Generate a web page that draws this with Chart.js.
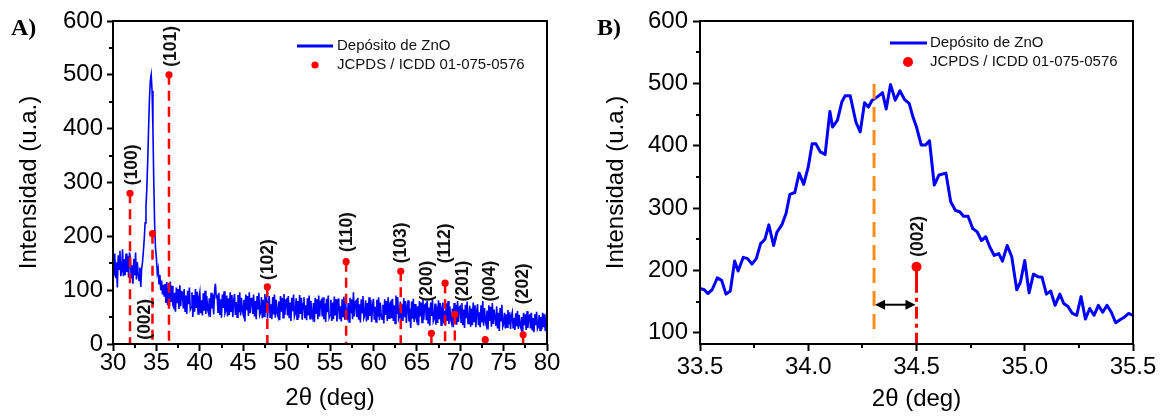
<!DOCTYPE html>
<html><head><meta charset="utf-8">
<script src="https://cdn.jsdelivr.net/npm/chart.js@4.4.1/dist/chart.umd.min.js"></script>
<style>
html,body{margin:0;padding:0;background:#fff;}
#wrap{position:relative;width:1170px;height:417px;overflow:hidden;}
#cA{position:absolute;left:0;top:0;}
#cB{position:absolute;left:590px;top:0;}
</style></head><body>
<div id="wrap"><canvas id="cA" width="590" height="417"></canvas><canvas id="cB" width="580" height="417"></canvas></div>
<script>
// ---------- Panel A: full scan (2θ from 30° in 0.1° steps) ----------
const scanStart = 30, scanStep = 0.1;
const scanIntensity = [
161,127,168,122,152,105,165,139,173,126,
136,176,126,158,128,168,134,163,123,170,
160,122,146,112,158,128,170,120,152,130,
118,142,106,140,152,172,195,225,255,290,
340,400,455,490,500,470,400,300,220,178,
160,132,140,112,128,100,118,92,110,88,
112,76,115,72,104,70,116,78,108,72,
68,95,60,105,76,102,65,109,70,97,
96,66,102,61,90,56,99,74,105,64,
68,96,50,91,60,102,67,97,56,86,
96,57,81,53,94,62,99,56,89,65,
58,85,50,95,66,92,55,99,112,87,
89,59,95,54,83,49,92,67,98,57,
62,90,51,85,54,96,61,91,50,80,
93,54,78,50,91,59,96,53,86,62,
55,82,42,92,63,89,52,96,57,84,
86,56,92,51,80,46,89,64,95,54,
59,87,48,82,51,93,58,88,47,77,
89,50,74,46,87,55,92,49,82,58,
52,79,44,89,60,86,49,93,54,81,
83,53,89,48,77,43,86,61,92,51,
57,85,46,80,49,91,56,86,45,75,
87,48,72,44,85,53,90,47,80,56,
49,76,41,86,57,83,46,90,51,78,
81,51,87,46,75,41,84,59,90,49,
54,82,43,77,46,88,53,83,42,72,
85,46,70,42,83,51,88,45,78,54,
49,76,41,86,57,83,46,96,51,78,
80,50,86,45,74,40,83,58,89,48,
53,81,42,76,45,87,52,82,41,71,
84,45,69,41,82,50,87,44,77,53,
46,73,38,83,54,80,43,87,48,75,
78,48,84,43,72,38,90,56,87,46,
51,79,40,74,43,85,50,80,39,69,
81,42,66,30,79,47,84,41,74,50,
43,70,35,80,51,77,40,84,45,72,
74,44,80,39,68,34,77,52,83,42,
47,75,36,70,39,81,46,76,35,65,
77,38,62,34,75,43,80,37,70,46,
39,66,31,76,47,73,36,80,41,68,
70,40,76,35,64,30,73,48,79,38,
43,71,32,66,35,77,42,72,31,61,
74,35,59,31,72,40,80,34,67,43,
35,62,27,72,43,69,32,76,37,64,
64,34,70,29,58,24,67,42,73,32,
37,58,29,55,31,63,37,59,28,52,
59,29,48,26,57,33,61,28,54,35,
29,50,23,58,35,55,26,61,30,51,
53,29,58,25,48,22,55,35,60,28,
32,54,25,50,27,58,31,55,24,47,
38];

// JCPDS / ICDD 01-075-0576 reference reflections
const hklNames     = ['(100)','(002)','(101)','(102)','(110)','(103)','(200)','(112)','(201)','(004)','(202)'];
const hklAngle     = [31.96, 34.55, 36.45, 47.78, 56.86, 63.15, 66.68, 68.26, 69.38, 72.88, 77.25];
const hklIntensity = [280, 205, 500, 106, 153, 135, 20, 113, 55, 8, 17];
// where each (hkl) tag starts (angle, intensity)
const hklTagAngle  = [32.25, 33.69, 36.68, 47.9, 57.0, 63.2, 66.2, 68.3, 70.36, 73.4, 77.27];
const hklTagBase   = [295, 8, 515, 119, 171, 150, 79, 150, 79, 79, 74];

// ---------- Panel B: zoom on the (002) peak ----------
const zoomAngle = [33.50,33.52,33.536,33.556,33.58,33.60,33.62,33.64,33.66,33.676,
33.70,33.72,33.74,33.76,33.78,33.80,33.818,33.84,33.855,33.878,
33.898,33.915,33.938,33.958,33.979,34.00,34.018,34.035,34.056,34.078,
34.10,34.112,34.135,34.155,34.17,34.194,34.22,34.24,34.26,34.278,
34.295,34.318,34.343,34.36,34.38,34.402,34.423,34.445,34.466,34.483,
34.50,34.522,34.542,34.56,34.582,34.604,34.636,34.658,34.68,34.70,
34.717,34.738,34.76,34.78,34.80,34.82,34.838,34.859,34.88,34.897,
34.919,34.94,34.963,34.98,35.00,35.02,35.04,35.06,35.08,35.10,
35.12,35.14,35.162,35.18,35.20,35.22,35.24,35.26,35.28,35.30,
35.32,35.34,35.36,35.38,35.40,35.42,35.44,35.46,35.48,35.50];
const zoomIntensity = [171,169,163,169,188,184,162,167,215,199,
221,219,210,219,243,250,273,240,261,273,
292,322,325,356,338,366,403,403,390,386,
455,430,441,470,480,480,438,422,469,462,
473,478,485,459,498,473,488,474,468,447,
430,401,401,408,337,353,356,310,296,294,
287,287,267,262,248,254,238,224,227,215,
240,222,169,181,216,164,194,190,189,162,
167,144,162,147,142,131,128,158,122,139,
128,144,133,144,133,116,121,125,131,128];
const peakAngle = 34.304, peakLineTop = 499, peakLineBottom = 93;   // measured peak position
const refAngle = 34.5, refIntensity = 206;                           // JCPDS (002)
const refTagAngle = 34.51, refTagBase = 222;
const shiftArrowLevel = 145;

const legendLabels = ['Depósito de ZnO', 'JCPDS / ICDD 01-075-0576'];

// ---------- drawing helpers ----------
const SANS = '"Liberation Sans", Arial, sans-serif';
const BLUE = '#0000ff', RED = '#ff0000', ORANGE = '#ff8c1a';

const decor = {
  id: 'decor',
  afterDatasetsDraw(chart) {
    const o = chart.options.plugins.decor;
    if (!o.arrow) return;
    const {ctx, scales: {x, y}} = chart;
    const x1 = x.getPixelForValue(o.arrow.from), x2 = x.getPixelForValue(o.arrow.to), py = y.getPixelForValue(o.arrow.level);
    ctx.save();
    ctx.strokeStyle = '#000'; ctx.fillStyle = '#000'; ctx.lineWidth = 2;
    ctx.beginPath(); ctx.moveTo(x1 + 6, py); ctx.lineTo(x2 - 6, py); ctx.stroke();
    const head = (xt, dir) => { ctx.beginPath(); ctx.moveTo(xt, py); ctx.lineTo(xt - dir * 10, py - 5); ctx.lineTo(xt - dir * 10, py + 5); ctx.closePath(); ctx.fill(); };
    head(x1 + 1, -1); head(x2 - 1, 1);
    ctx.restore();
  },
  afterDraw(chart) {
    const o = chart.options.plugins.decor;
    const {ctx, chartArea: a, scales: {x, y}} = chart;
    ctx.save();
    ctx.strokeStyle = '#000'; ctx.lineWidth = 2;
    ctx.strokeRect(a.left, a.top, a.right - a.left, a.bottom - a.top);
    ctx.beginPath();
    for (let v = o.xMinor[0]; v < x.max; v += o.xMinor[1]) { const p = Math.round(x.getPixelForValue(v)); ctx.moveTo(p, a.bottom); ctx.lineTo(p, a.bottom + 4); }
    for (let v = o.yMinor[0]; v < y.max; v += o.yMinor[1]) { const p = Math.round(y.getPixelForValue(v)); ctx.moveTo(a.left, p); ctx.lineTo(a.left - 4, p); }
    ctx.stroke();
    ctx.fillStyle = '#000';
    ctx.font = 'bold 24px "Liberation Serif", "Times New Roman", serif';
    ctx.textBaseline = 'middle'; ctx.textAlign = 'left';
    ctx.fillText(o.letter, o.letterX, 29);
    const L = o.legend;
    ctx.strokeStyle = BLUE; ctx.lineWidth = 3;
    ctx.beginPath(); ctx.moveTo(L.lineX1, L.y1); ctx.lineTo(L.lineX2, L.y1); ctx.stroke();
    ctx.fillStyle = RED; ctx.beginPath(); ctx.arc(L.dotX, L.y2, L.dotR, 0, Math.PI * 2); ctx.fill();
    ctx.fillStyle = '#111'; ctx.font = '15px ' + SANS;
    ctx.fillText(legendLabels[0], L.textX, L.y1);
    ctx.fillText(legendLabels[1], L.textX, L.y2);
    ctx.font = 'bold 17.5px ' + SANS; ctx.fillStyle = '#111';
    o.tags.forEach(t => {
      ctx.save();
      ctx.translate(x.getPixelForValue(t.a), y.getPixelForValue(t.v));
      ctx.rotate(-Math.PI / 2);
      ctx.textAlign = 'left'; ctx.textBaseline = 'middle';
      ctx.fillText(t.s, 0, 0);
      ctx.restore();
    });
    ctx.restore();
  }
};

function zeroPad(s) { s.paddingLeft = 0; s.paddingRight = 0; s.paddingTop = 0; s.paddingBottom = 0; }

function axes(o) {
  return {
    x: {
      type: 'linear', min: o.xmin, max: o.xmax,
      afterFit(s) { s.height = 73; zeroPad(s); },
      ticks: { stepSize: o.xstep, font: { family: SANS, size: 24, lineHeight: 1 }, color: '#000', padding: o.xpad, maxRotation: 0, autoSkip: false, includeBounds: false, callback: o.xfmt },
      grid: { drawOnChartArea: false, drawTicks: true, tickLength: 7, tickWidth: 2, tickColor: '#000' },
      border: { display: false },
      title: { display: true, text: '2θ (deg)', font: { family: SANS, size: 24 }, color: '#000', padding: { top: 0, bottom: o.xtpad } }
    },
    y: {
      min: o.ymin, max: o.ymax,
      afterFit(s) { s.width = o.ywidth; zeroPad(s); },
      ticks: { stepSize: 100, font: { family: SANS, size: 24, lineHeight: 1 }, color: '#000', padding: o.ypad, includeBounds: false },
      grid: { drawOnChartArea: false, drawTicks: true, tickLength: o.ytl, tickWidth: 2, tickColor: '#000' },
      border: { display: false },
      title: { display: true, text: 'Intensidad (u.a.)', font: { family: SANS, size: 24 }, color: '#000', padding: { top: o.ytpad, bottom: 0 } }
    }
  };
}

// ---------- Chart A ----------
const scanPoints = scanIntensity.map((v, i) => ({ x: +(scanStart + i * scanStep).toFixed(2), y: v }));
const stemPoints = [];
hklAngle.forEach((a, i) => { stemPoints.push({ x: a, y: hklIntensity[i] }, { x: a, y: 0 }, { x: a, y: null }); });

new Chart(document.getElementById('cA'), {
  type: 'line',
  data: { datasets: [
    { data: scanPoints, borderColor: BLUE, borderWidth: 1.6, pointRadius: 0, tension: 0, order: 3 },
    { data: stemPoints, borderColor: RED, borderWidth: 2.5, borderDash: [10, 6], pointRadius: 0, spanGaps: false, order: 2 },
    { data: hklAngle.map((a, i) => ({ x: a, y: hklIntensity[i] })), showLine: false, pointRadius: 3.6, pointBackgroundColor: RED, pointBorderWidth: 0, order: 1 }
  ]},
  options: {
    responsive: false, animation: false, devicePixelRatio: 1,
    layout: { padding: { left: 0, right: 43, top: 21, bottom: 0 } },
    plugins: {
      legend: { display: false }, tooltip: { enabled: false },
      decor: {
        letter: 'A)', letterX: 11,
        legend: { lineX1: 297, lineX2: 333, y1: 46, textX: 337, y2: 65, dotX: 315, dotR: 3.6 },
        xMinor: [32.5, 5], yMinor: [50, 100],
        tags: hklNames.map((s, i) => ({ s, a: hklTagAngle[i], v: hklTagBase[i] }))
      }
    },
    scales: axes({ xmin: 30, xmax: 80, xstep: 5, xpad: 0, xtpad: 4, ymin: 0, ymax: 600, ywidth: 113, ypad: 4, ytl: 6, ytpad: 15 })
  },
  plugins: [decor]
});

// ---------- Chart B ----------
new Chart(document.getElementById('cB'), {
  type: 'line',
  data: { datasets: [
    { data: zoomAngle.map((a, i) => ({ x: a, y: zoomIntensity[i] })), borderColor: BLUE, borderWidth: 3, pointRadius: 0, tension: 0, borderJoinStyle: 'round', order: 4 },
    { data: [{ x: peakAngle, y: peakLineTop }, { x: peakAngle, y: peakLineBottom }], borderColor: ORANGE, borderWidth: 3, borderDash: [15, 8], pointRadius: 0, order: 3 },
    { data: [{ x: refAngle, y: refIntensity }, { x: refAngle, y: 82 }], borderColor: RED, borderWidth: 3, borderDash: [26, 5, 4, 5, 12, 5, 4, 5, 12, 5], pointRadius: 0, order: 2 },
    { data: [{ x: refAngle, y: refIntensity }], showLine: false, pointRadius: 5, pointBackgroundColor: RED, pointBorderWidth: 0, order: 1 }
  ]},
  options: {
    responsive: false, animation: false, devicePixelRatio: 1,
    layout: { padding: { left: 0, right: 37, top: 21, bottom: 0 } },
    plugins: {
      legend: { display: false }, tooltip: { enabled: false },
      decor: {
        letter: 'B)', letterX: 7,
        legend: { lineX1: 300, lineX2: 337, y1: 43, textX: 340, y2: 62, dotX: 318, dotR: 5 },
        xMinor: [33.75, 0.5], yMinor: [150, 100],
        tags: [{ s: '(002)', a: refTagAngle, v: refTagBase }],
        arrow: { from: peakAngle, to: refAngle, level: shiftArrowLevel }
      }
    },
    scales: axes({ xmin: 33.5, xmax: 35.5, xstep: 0.5, xpad: 4, xtpad: 3, xfmt: v => Number(v).toFixed(1), ymin: 82, ymax: 600, ywidth: 110, ypad: 5, ytl: 7, ytpad: 11.5 })
  },
  plugins: [decor]
});
</script>
</body></html>
